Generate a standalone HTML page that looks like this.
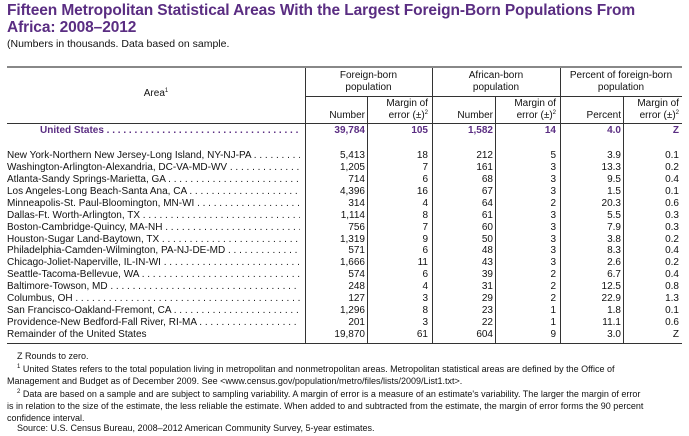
<!DOCTYPE html>
<html><head><meta charset="utf-8"><style>
body{margin:0;width:689px;height:436px;background:#fff;position:relative;overflow:hidden;font-family:"Liberation Sans Narrow","Liberation Sans",sans-serif;color:#111}
sup{font-size:6px;line-height:0;vertical-align:4px}
.a{position:absolute;white-space:nowrap;font-size:10px;line-height:12px}
.r{text-align:right}
.c{text-align:center}
.t{position:absolute;left:7px;font-family:"Liberation Sans",sans-serif;font-weight:bold;color:#5a2d82;font-size:15.5px;line-height:17px;letter-spacing:-0.1px}
.h{position:absolute;background:#000}
.v{position:absolute;width:1px;background:#333}
.lead{overflow:hidden}
.p{color:#5a2d82;font-weight:bold}
.f{font-size:9px}
</style></head><body>
<div class="t" style="top:2px">Fifteen Metropolitan Statistical Areas With the Largest Foreign-Born Populations From</div>
<div class="t" style="top:19px">Africa: 2008–2012</div>
<div class="a" style="left:7px;top:38px;font-family:'Liberation Sans',sans-serif;font-size:10.5px">(Numbers in thousands. Data based on sample.</div>

<div class="h" style="left:7px;top:66px;width:675px;height:2px;background:#888"></div>
<div class="h" style="left:305px;top:96px;width:377px;height:1px;background:#333"></div>
<div class="h" style="left:7px;top:123px;width:675px;height:1px;background:#333"></div>
<div class="h" style="left:7px;top:343px;width:675px;height:1px;background:#333"></div>
<div class="v" style="left:305px;top:68px;height:275px"></div>
<div class="v" style="left:432px;top:68px;height:275px"></div>
<div class="v" style="left:560px;top:68px;height:275px"></div>
<div class="v" style="left:367px;top:97px;height:246px"></div>
<div class="v" style="left:495px;top:97px;height:246px"></div>
<div class="v" style="left:623px;top:97px;height:246px"></div>

<div class="a c" style="left:7px;width:298px;top:88px">Area<sup>1</sup></div>
<div class="a c" style="left:305px;width:127px;top:70px">Foreign-born<br>population</div>
<div class="a c" style="left:432px;width:128px;top:70px">African-born<br>population</div>
<div class="a c" style="left:560px;width:122px;top:70px">Percent of foreign-born<br>population</div>
<div class="a r" style="left:305px;width:60px;top:110px">Number</div>
<div class="a r" style="left:367px;width:61px;top:98px">Margin of<br>error (±)<sup>2</sup></div>
<div class="a r" style="left:432px;width:61px;top:110px">Number</div>
<div class="a r" style="left:495px;width:61px;top:98px">Margin of<br>error (±)<sup>2</sup></div>
<div class="a r" style="left:560px;width:61px;top:110px">Percent</div>
<div class="a r" style="left:623px;width:56px;top:98px">Margin of<br>error (±)<sup>2</sup></div>

<div id="rows"></div>

<div class="a f" style="left:17px;top:350px">Z Rounds to zero.</div>
<div class="a f" style="left:17px;top:363px"><sup>1</sup> United States refers to the total population living in metropolitan and nonmetropolitan areas. Metropolitan statistical areas are defined by the Office of</div>
<div class="a f" style="left:7px;top:375px">Management and Budget as of December 2009. See &lt;www.census.gov/population/metro/files/lists/2009/List1.txt&gt;.</div>
<div class="a f" style="left:17px;top:388px"><sup>2</sup> Data are based on a sample and are subject to sampling variability. A margin of error is a measure of an estimate's variability. The larger the margin of error</div>
<div class="a f" style="left:7px;top:400px">is in relation to the size of the estimate, the less reliable the estimate. When added to and subtracted from the estimate, the margin of error forms the 90 percent</div>
<div class="a f" style="left:7px;top:412px">confidence interval.</div>
<div class="a f" style="left:17px;top:422px">Source: U.S. Census Bureau, 2008–2012 American Community Survey, 5-year estimates.</div>

<script>
var D=[["New York-Northern New Jersey-Long Island, NY-NJ-PA","5,413","18","212","5","3.9","0.1"],
["Washington-Arlington-Alexandria, DC-VA-MD-WV","1,205","7","161","3","13.3","0.2"],
["Atlanta-Sandy Springs-Marietta, GA","714","6","68","3","9.5","0.4"],
["Los Angeles-Long Beach-Santa Ana, CA","4,396","16","67","3","1.5","0.1"],
["Minneapolis-St. Paul-Bloomington, MN-WI","314","4","64","2","20.3","0.6"],
["Dallas-Ft. Worth-Arlington, TX","1,114","8","61","3","5.5","0.3"],
["Boston-Cambridge-Quincy, MA-NH","756","7","60","3","7.9","0.3"],
["Houston-Sugar Land-Baytown, TX","1,319","9","50","3","3.8","0.2"],
["Philadelphia-Camden-Wilmington, PA-NJ-DE-MD","571","6","48","3","8.3","0.4"],
["Chicago-Joliet-Naperville, IL-IN-WI","1,666","11","43","3","2.6","0.2"],
["Seattle-Tacoma-Bellevue, WA","574","6","39","2","6.7","0.4"],
["Baltimore-Towson, MD","248","4","31","2","12.5","0.8"],
["Columbus, OH","127","3","29","2","22.9","1.3"],
["San Francisco-Oakland-Fremont, CA","1,296","8","23","1","1.8","0.1"],
["Providence-New Bedford-Fall River, RI-MA","201","3","22","1","11.1","0.6"],
["Remainder of the United States","19,870","61","604","9","3.0","Z"]];
var X=[[305,60],[367,61],[432,61],[495,61],[560,61],[623,56]];
var dots=" . . . . . . . . . . . . . . . . . . . . . . . . . . . . . . . . . . . . . . . . . . . . . . . . . . . . . . . . . . . . . . . . .";
var h="";
function row(v,top,cls,left){
 h+='<div class="a lead '+cls+'" style="left:'+left+'px;width:'+(300-left)+'px;top:'+top+'px">'+v[0]+(v[0].indexOf("Remainder")==0?"":dots)+'</div>';
 for(var i=0;i<6;i++)h+='<div class="a r '+cls+'" style="left:'+X[i][0]+'px;width:'+X[i][1]+'px;top:'+top+'px">'+v[i+1]+'</div>';
}
row(["United States","39,784","105","1,582","14","4.0","Z"],125,"p",40);
for(var j=0;j<D.length;j++)row(D[j],150+j*11.93,"",7);
document.getElementById("rows").innerHTML=h;
</script>
</body></html>
